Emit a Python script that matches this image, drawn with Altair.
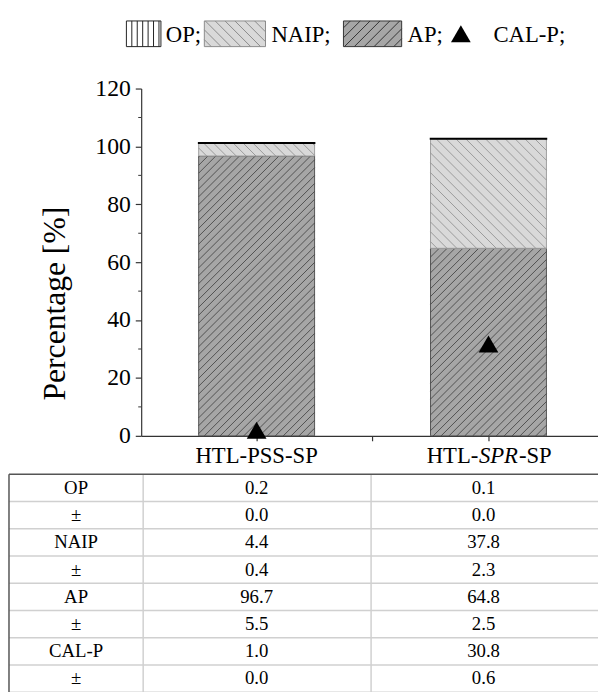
import math
import altair as alt
import pandas as pd

# ---------------- data ----------------
categories = ["HTL-PSS-SP", "HTL-SPR-SP"]
italic_part = ["", "SPR"]
op_vals = [0.2, 0.1]
op_err = [0.0, 0.0]
naip_vals = [4.4, 37.8]
naip_err = [0.4, 2.3]
ap_vals = [96.7, 64.8]
ap_err = [5.5, 2.5]
calp_vals = [1.0, 30.8]
calp_err = [0.0, 0.6]
series_names = ["OP", "NAIP", "AP", "CAL-P"]
y_major_ticks = [0, 20, 40, 60, 80, 100, 120]
y_minor_ticks = [10, 30, 50, 70, 90, 110]
x_tick_values = [1, 1.5, 2]
y_title = "Percentage [%]"

# ---------------- layout / style ----------------
FONT = "'Liberation Serif', 'Times New Roman', 'DejaVu Serif', serif"
W, H = 463, 352
PAD_L, PAD_T = 135, 77
SVG_W, SVG_H = 598, 684
PX_PER_X = 235.0
X_MIN = 1 - 117.0 / PX_PER_X
X_MAX = X_MIN + W / PX_PER_X
Y_MAX = 120
BAR_HALF = 0.25
AP_FILL, AP_LINE, AP_EDGE = "#a6a6a6", "#3c3c3c", "#555555"
NAIP_FILL, NAIP_LINE, NAIP_EDGE = "#d9d9d9", "#8a8a8a", "#a0a0a0"
AXIS_COLOR = "#333333"
# triangle drawn slightly above its anchor, as in the source figure
TRI_PATH = "M0,-1.146L-1,0.586L1,0.586Z"

xs = alt.Scale(domain=[X_MIN, X_MAX], nice=False, zero=False)
ys = alt.Scale(domain=[0, Y_MAX], nice=False, zero=True)
x_axis = alt.Axis(values=x_tick_values, labels=False, title=None, grid=False,
                  tickSize=5, domainColor=AXIS_COLOR, tickColor=AXIS_COLOR)
y_axis = alt.Axis(values=y_major_ticks, title=None, grid=False, tickSize=6,
                  labelPadding=5, format="d", domainColor=AXIS_COLOR, tickColor=AXIS_COLOR)


def X(f):
    return alt.X(f, type="quantitative", scale=xs, axis=x_axis)


def Y(f):
    return alt.Y(f, type="quantitative", scale=ys, axis=y_axis)


# ---------------- stacked segments ----------------
pos = [i + 1 for i in range(len(categories))]
seg_rows = []
for i, c in enumerate(categories):
    base = 0.0
    for name, vals in [("AP", ap_vals), ("NAIP", naip_vals), ("OP", op_vals)]:
        seg_rows.append(dict(cat=c, series=name, x0=pos[i] - BAR_HALF, x1=pos[i] + BAR_HALF,
                             y0=base, y1=base + vals[i]))
        base += vals[i]
seg = pd.DataFrame(seg_rows)


def hatch(df, direction, step_px):
    out = []
    sx = PX_PER_X
    sy = H / Y_MAX
    for r in df.itertuples():
        X0, X1 = (r.x0 - X_MIN) * sx, (r.x1 - X_MIN) * sx
        Y0, Y1 = r.y0 * sy, r.y1 * sy
        if direction == "/":
            cmin, cmax = X0 - Y1, X1 - Y0
        else:
            cmin, cmax = X0 + Y0, X1 + Y1
        k = math.floor(cmin / step_px)
        while k * step_px <= cmax:
            c = k * step_px
            if direction == "/":
                xa, xb = max(X0, Y0 + c), min(X1, Y1 + c)
                ya, yb = xa - c, xb - c
            else:
                xa, xb = max(X0, c - Y1), min(X1, c - Y0)
                ya, yb = c - xa, c - xb
            if xb - xa > 0.8:
                out.append(dict(hx=xa / sx + X_MIN, hy=ya / sy, hx2=xb / sx + X_MIN, hy2=yb / sy))
            k += 1
    return pd.DataFrame(out)


def bar_layer(name, fill, edge, sw):
    return alt.Chart(seg[seg.series == name]).mark_rect(
        fill=fill, stroke=edge, strokeWidth=sw).encode(
        x=X("x0"), x2=alt.X2("x1"), y=Y("y0"), y2=alt.Y2("y1"))


def hatch_layer(name, direction, step, color):
    return alt.Chart(hatch(seg[seg.series == name], direction, step)).mark_rule(
        color=color, strokeWidth=0.8).encode(
        x=X("hx"), x2=alt.X2("hx2"), y=Y("hy"), y2=alt.Y2("hy2"))


plot_layers = [
    bar_layer("AP", AP_FILL, AP_EDGE, 1),
    hatch_layer("AP", "/", 8, AP_LINE),
    bar_layer("NAIP", NAIP_FILL, NAIP_EDGE, 1),
    hatch_layer("NAIP", "\\", 10, NAIP_LINE),
    bar_layer("OP", "white", "black", 1.6),
]

# minor ticks on the y axis
plot_layers.append(
    alt.Chart(pd.DataFrame({"v": y_minor_ticks})).mark_rule(color=AXIS_COLOR, strokeWidth=1).encode(
        x=alt.value(-3), x2=alt.value(0), y=Y("v")))

# CAL-P triangles
plot_layers.append(
    alt.Chart(pd.DataFrame({"x": pos, "v": calp_vals})).mark_point(
        shape=TRI_PATH, filled=True, fill="black", size=400, opacity=1, strokeWidth=0).encode(
        x=X("x"), y=Y("v")))

# y title
plot_layers.append(
    alt.Chart(pd.DataFrame({"t": [y_title]})).mark_text(
        angle=270, font=FONT, fontSize=32, align="center", baseline="middle", color="black").encode(
        text="t:N", x=alt.value(-87), y=alt.value(218)))

# category labels (with italic part)
CAT_FS = 23
LABEL_Y = 373
for i, c in enumerate(categories):
    d = pd.DataFrame({"x": [pos[i]]})
    if not italic_part[i]:
        plot_layers.append(alt.Chart(d.assign(t=c)).mark_text(
            font=FONT, fontSize=CAT_FS, baseline="middle", align="center", color="black").encode(
            text="t:N", x=X("x"), y=alt.value(LABEL_Y)))
    else:
        pre, suf = c.split(italic_part[i], 1)
        # approximate Times em-widths for layout of the three pieces
        w_pre, w_mid, w_suf = 2.277 * CAT_FS, 1.722 * CAT_FS, 1.445 * CAT_FS
        left = -(w_pre + w_mid + w_suf) / 2
        for txt, al, dx, style in [(pre, "right", left + w_pre, "normal"),
                                   (italic_part[i], "left", left + w_pre + 0.5, "italic"),
                                   (suf, "left", left + w_pre + w_mid + 1.5, "normal")]:
            plot_layers.append(alt.Chart(d.assign(t=txt)).mark_text(
                font=FONT, fontSize=CAT_FS, baseline="middle", align=al, dx=dx,
                fontStyle=style, color="black").encode(
                text="t:N", x=X("x"), y=alt.value(LABEL_Y)))

plot_group = alt.layer(*plot_layers)

# ---------------- table ----------------
table_series = [("OP", op_vals, op_err), ("NAIP", naip_vals, naip_err),
                ("AP", ap_vals, ap_err), ("CAL-P", calp_vals, calp_err)]
rows = []
for name, v, e in table_series:
    rows.append([name] + [f"{x:.1f}" for x in v])
    rows.append(["±"] + [f"{x:.1f}" for x in e])
tab = pd.DataFrame(rows, columns=["label", "c1", "c2"])
tab["r"] = [k + 0.5 for k in range(len(tab))]

TAB_TOP = 391
ROW_H = 27.6
TAB_LEFT = -134
COL_X = {"label": -66, "c1": 117, "c2": 347}
DIV_X = [2, 233]
ts = alt.Scale(domain=[0, len(tab)], range=[TAB_TOP, TAB_TOP + len(tab) * ROW_H], nice=False, zero=False)
bounds = pd.DataFrame({"rb": list(range(len(tab) + 1))})

table_layers = [
    alt.Chart(bounds[bounds.rb > 0]).mark_rule(color="#d0d0d0", strokeWidth=1.5).encode(
        x=alt.value(TAB_LEFT), x2=alt.value(W), y=alt.Y("rb:Q", scale=ts, axis=None)),
]
for dx in DIV_X:
    table_layers.append(alt.Chart(pd.DataFrame({"a": [0]})).mark_rule(color="#d0d0d0", strokeWidth=1.5).encode(
        x=alt.value(dx), y=alt.value(TAB_TOP), y2=alt.value(TAB_TOP + len(tab) * ROW_H + 20)))
table_layers.append(alt.Chart(pd.DataFrame({"a": [0]})).mark_rule(color="#555555", strokeWidth=1.5).encode(
    x=alt.value(TAB_LEFT), y=alt.value(TAB_TOP), y2=alt.value(TAB_TOP + len(tab) * ROW_H + 20)))
table_layers.append(alt.Chart(bounds[bounds.rb == 0]).mark_rule(color="#555555", strokeWidth=1.5).encode(
    x=alt.value(TAB_LEFT), x2=alt.value(W), y=alt.Y("rb:Q", scale=ts, axis=None)))
for col, xv in COL_X.items():
    table_layers.append(alt.Chart(tab).mark_text(
        font=FONT, fontSize=19, baseline="middle", align="center", color="black").encode(
        text=f"{col}:N", x=alt.value(xv), y=alt.Y("r:Q", scale=ts, axis=None)))
table_group = alt.layer(*table_layers)


# ---------------- custom legend ----------------
def clip(x0, y0, x1, y1, a):
    t0, t1 = 0.0, 1.0
    dxl, dyl = x1 - x0, y1 - y0
    for pp, qq in ((-dxl, x0 + 1), (dxl, 1 - x0), (-dyl, y0 + a), (dyl, a - y0)):
        if pp == 0:
            if qq < 0:
                return None
        else:
            t = qq / pp
            if pp < 0:
                t0 = max(t0, t)
            else:
                t1 = min(t1, t)
    return None if t0 >= t1 else (x0 + t0 * dxl, y0 + t0 * dyl, x0 + t1 * dxl, y0 + t1 * dyl)


def box_path(w, h, kind, step):
    a = h / w  # half height in units where half width = 1
    u = 2.0 / w  # one pixel in path units
    p = [f"M-1,{-a:.4f}L1,{-a:.4f}L1,{a:.4f}L-1,{a:.4f}Z"]
    st = step * u
    if kind == "|":
        x = -1 + st
        while x < 1 - 0.5 * u:
            p.append(f"M{x:.4f},{-a:.4f}L{x:.4f},{a:.4f}")
            x += st
    else:
        c = -1 - 2 * a + st
        while c < 1 + 2 * a:
            pts = []
            for yy in (-a, a):
                xx = c + (yy if kind == "\\" else -yy)
                pts.append((xx, yy))
            (xa, ya), (xb, yb) = pts
            seg_c = clip(xa, ya, xb, yb, a)
            if seg_c:
                p.append("M{:.4f},{:.4f}L{:.4f},{:.4f}".format(*seg_c))
            c += st
    return "".join(p)


LEG_Y = -55.5
legend_items = [
    # (series index, box kind, box center x, box w, text left x, fill, edge)
    (0, "|", 2.5, 35, 25, "white", "#222222"),
    (1, "\\", 95, 62, 132, NAIP_FILL, "#8a8a8a"),
    (2, "/", 234.5, 59, 270, AP_FILL, "#333333"),
]
legend_layers = []
one = pd.DataFrame({"a": [0]})
for si, kind, cx, bw, tx, fill, edge in legend_items:
    step = 5.5 if kind == "|" else 10
    legend_layers.append(alt.Chart(one).mark_point(
        shape=box_path(bw, 26, kind, step), size=bw * bw, filled=True, fill=fill, stroke=edge,
        strokeWidth=1, opacity=1).encode(x=alt.value(cx), y=alt.value(LEG_Y)))
    legend_layers.append(alt.Chart(pd.DataFrame({"t": [series_names[si] + ";"]})).mark_text(
        font=FONT, fontSize=23, align="left", baseline="middle", color="black").encode(
        text="t:N", x=alt.value(tx), y=alt.value(LEG_Y + 1)))
legend_layers.append(alt.Chart(one).mark_point(
    shape="triangle-up", filled=True, fill="black", size=400, opacity=1, strokeWidth=0).encode(
    x=alt.value(324), y=alt.value(LEG_Y)))
legend_layers.append(alt.Chart(pd.DataFrame({"t": [series_names[3] + ";"]})).mark_text(
    font=FONT, fontSize=23, align="left", baseline="middle", color="black").encode(
    text="t:N", x=alt.value(357), y=alt.value(LEG_Y + 1)))
legend_group = alt.layer(*legend_layers)

chart = alt.layer(plot_group, table_group, legend_group).resolve_scale(y="independent").properties(
    width=W, height=H,
    autosize=alt.AutoSizeParams(type="none"),
    padding={"left": PAD_L, "top": PAD_T, "right": SVG_W - PAD_L - W, "bottom": SVG_H - PAD_T - H},
).configure_axis(
    labelFont=FONT, labelFontSize=24, labelColor="black", domainWidth=1.2, tickWidth=1.2,
).configure_view(stroke=None)

chart.save("out.html", embed_options={"renderer": "svg", "actions": False})
